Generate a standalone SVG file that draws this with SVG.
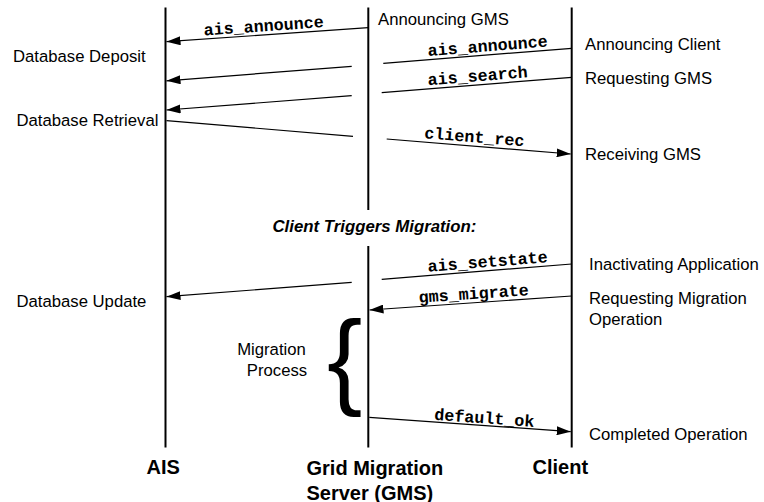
<svg xmlns="http://www.w3.org/2000/svg" width="764" height="502" viewBox="0 0 764 502">
  <style>
    .life { stroke: #000; stroke-width: 2; fill: none; }
    .msg { stroke: #000; stroke-width: 1.2; fill: none; }
    .arr { marker-end: url(#head); }
    .note { font-family: "Liberation Sans", Arial, sans-serif; font-size: 16.7px; fill: #000; }
    .code { font-family: "Liberation Mono", "Courier New", monospace; font-size: 16.7px; font-weight: bold; fill: #000; text-anchor: middle; }
    .actor { font-family: "Liberation Sans", Arial, sans-serif; font-size: 20px; font-weight: bold; fill: #000; }
    .phase { font-family: "Liberation Sans", Arial, sans-serif; font-size: 16.8px; font-weight: bold; font-style: italic; fill: #000; }
  </style>
  <defs>
    <marker id="head" markerUnits="userSpaceOnUse" viewBox="0 0 14 9" refX="14" refY="4.5" markerWidth="14" markerHeight="9" orient="auto">
      <path d="M0,0 L14,4.5 L0,9 z" fill="#000"/>
    </marker>
  </defs>
  <rect width="764" height="502" fill="#fff"/>

  <!-- lifelines -->
  <g id="ais">
    <line class="life" x1="165.5" y1="7.5" x2="165.5" y2="447.5"/>
    <text class="actor" x="146.5" y="474">AIS</text>
    <text class="note" x="13" y="62">Database Deposit</text>
    <text class="note" x="16.5" y="125.5">Database Retrieval</text>
    <text class="note" x="16.5" y="307">Database Update</text>
  </g>
  <g id="gms">
    <line class="life" x1="368.3" y1="7.5" x2="368.3" y2="210"/>
    <line class="life" x1="368.3" y1="246" x2="368.3" y2="447.5"/>
    <text class="actor" x="306.5" y="474.5">Grid Migration</text>
    <text class="actor" x="306.5" y="499.5">Server (GMS)</text>
    <text class="note" x="378" y="25">Announcing GMS</text>
  </g>
  <g id="client">
    <line class="life" x1="571.7" y1="7.5" x2="571.7" y2="447.5"/>
    <text class="actor" x="532.5" y="474">Client</text>
    <text class="note" x="585" y="50">Announcing Client</text>
    <text class="note" x="585" y="83.5">Requesting GMS</text>
    <text class="note" x="585" y="160">Receiving GMS</text>
    <text class="note" x="589" y="270">Inactivating Application</text>
    <text class="note" x="589" y="304">Requesting Migration</text>
    <text class="note" x="589" y="324.5">Operation</text>
    <text class="note" x="589" y="439.5">Completed Operation</text>
  </g>

  <g id="phase">
    <text class="phase" x="272.5" y="232">Client Triggers Migration:</text>
  </g>

  <g id="migration">
    <text class="note" x="271.5" y="355" text-anchor="middle">Migration</text>
    <text class="note" x="277" y="375.5" text-anchor="middle">Process</text>
    <text x="327" y="395" font-family="'Liberation Sans', Arial, sans-serif" font-size="106px" fill="#000">{</text>
  </g>

  <!-- messages -->
  <g id="connectors">
    <line class="msg arr" x1="368.3" y1="27.7" x2="166.5" y2="41.7"/>
    <line class="msg" x1="571.7" y1="48.3" x2="383.3" y2="63.3"/>
    <line class="msg arr" x1="351.7" y1="66.3" x2="166.5" y2="80.8"/>
    <line class="msg" x1="571.7" y1="77.3" x2="381.7" y2="92.7"/>
    <line class="msg arr" x1="351.7" y1="95.7" x2="166.5" y2="110"/>
    <line class="msg" x1="166.5" y1="120.7" x2="353" y2="136.3"/>
    <line class="msg arr" x1="386.7" y1="139" x2="570.7" y2="154"/>
    <line class="msg" x1="571.7" y1="264" x2="381.7" y2="279.3"/>
    <line class="msg arr" x1="351.7" y1="282.3" x2="166.5" y2="296.7"/>
    <line class="msg arr" x1="571.7" y1="296" x2="369.5" y2="310"/>
    <line class="msg arr" x1="369.3" y1="417.3" x2="570.7" y2="431.7"/>
  </g>

  <g id="labels">
    <text class="code" transform="translate(264,31.3) rotate(-3.96)">ais_announce</text>
    <text class="code" transform="translate(488,51.3) rotate(-4.56)">ais_announce</text>
    <text class="code" transform="translate(478,81.2) rotate(-4.64)">ais_search</text>
    <text class="code" transform="translate(474,142.3) rotate(4.66)">client_rec</text>
    <text class="code" transform="translate(488,267) rotate(-4.6)">ais_setstate</text>
    <text class="code" transform="translate(474,299) rotate(-3.97)">gms_migrate</text>
    <text class="code" transform="translate(484,423.3) rotate(4.07)">default_ok</text>
  </g>
</svg>
